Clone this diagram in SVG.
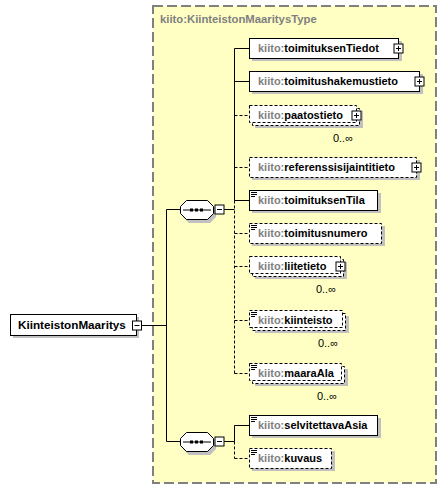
<svg xmlns="http://www.w3.org/2000/svg" width="448" height="490" viewBox="0 0 448 490">
<style>
text{font-family:"Liberation Sans",Arial,sans-serif;font-size:11px;font-weight:bold;fill:#000}
.pre{fill:#808080}
.occ{font-weight:normal;text-anchor:end}
.box{fill:#fff;stroke:#000;stroke-width:1}
.opt{stroke-dasharray:3,2}
.sh{fill:#c0c0c0}
.ln{stroke:#000;stroke-width:1;fill:none}
.dl{stroke:#000;stroke-width:1;fill:none;stroke-dasharray:3,2}
</style>
<defs>
<g id="plus"><rect x="-4.5" y="-4.5" width="9" height="9" fill="#fff" stroke="#000"/><path d="M-2.5 0H2.5M0 -2.5V2.5" stroke="#000"/></g>
<g id="minus"><rect x="-4.5" y="-4.5" width="9" height="9" fill="#fff" stroke="#000"/><path d="M-2.5 0H2.5" stroke="#000"/></g>
<g id="simp"><path d="M0 0.5H6M0 2.5H6M0 4.5H4" stroke="#000" stroke-width="1"/></g>
</defs>
<rect x="153" y="6" width="283" height="477" fill="#ffffc4" stroke="#808080" stroke-width="2" stroke-dasharray="10,4"/>
<text class="pre" x="160" y="23" style="font-size:11.3px">kiito:KiinteistonMaaritysType</text>

<g id="connectors">
<path class="ln" d="M141.5 325.5H166.5M166.5 209.5V441.5M166.5 209.5H180M166.5 441.5H180"/>
<path class="ln" d="M224 209.5H234.5M234.5 48.5V200.5M234.5 48.5H249M234.5 81.5H249M234.5 200.5H249"/>
<path class="dl" d="M234.5 200.5V373.5M234.5 115.5H249M234.5 167.5H249M234.5 233.5H249M234.5 266.5H249M234.5 320.5H249M234.5 373.5H249"/>
<path class="ln" d="M224 441.5H234.5M234.5 425.5V441.5M234.5 425.5H249"/>
<path class="dl" d="M234.5 441.5V458.5M234.5 458.5H249"/>
</g>

<g id="root">
<rect class="sh" x="13" y="317" width="126" height="21"/>
<rect class="box" x="10.5" y="314.5" width="126" height="21"/>
<text x="18" y="329" style="font-size:11.7px">KiinteistonMaaritys</text>
<use href="#minus" x="137" y="325.5"/>
</g>

<g id="seq1">
<polygon class="sh" points="189,203 210,203 216,209 216,217 210,223 189,223 183,217 183,209"/>
<polygon class="box" points="186.5,200.5 207.5,200.5 213.5,206.5 213.5,213.5 207.5,219.5 186.5,219.5 180.5,213.5 180.5,206.5"/>
<path class="ln" d="M183 210H211"/>
<rect x="190" y="208.5" width="3" height="3"/><rect x="195" y="208.5" width="3" height="3"/><rect x="200" y="208.5" width="3" height="3"/>
<use href="#minus" x="219.5" y="209.5"/>
</g>

<g id="seq2">
<polygon class="sh" points="189,435 210,435 216,441 216,449 210,455 189,455 183,449 183,441"/>
<polygon class="box" points="186.5,432.5 207.5,432.5 213.5,438.5 213.5,445.5 207.5,451.5 186.5,451.5 180.5,445.5 180.5,438.5"/>
<path class="ln" d="M183 442H211"/>
<rect x="190" y="440.5" width="3" height="3"/><rect x="195" y="440.5" width="3" height="3"/><rect x="200" y="440.5" width="3" height="3"/>
<use href="#minus" x="219.5" y="441.5"/>
</g>

<g id="toimituksenTiedot">
<rect class="sh" x="252" y="41" width="150" height="20"/>
<rect class="box" x="249.5" y="38.5" width="149" height="20"/>
<text x="258" y="52"><tspan class="pre">kiito:</tspan>toimituksenTiedot</text>
<use href="#plus" x="398.5" y="48.5"/>
</g>

<g id="toimitushakemustieto">
<rect class="sh" x="252" y="74" width="171" height="20"/>
<rect class="box" x="249.5" y="71.5" width="170" height="20"/>
<text x="258" y="85"><tspan class="pre">kiito:</tspan>toimitushakemustieto</text>
<use href="#plus" x="419.5" y="81.5"/>
</g>

<g id="paatostieto">
<rect class="sh" x="255" y="111" width="108" height="17"/>
<rect class="box opt" x="252.5" y="108.5" width="107" height="17"/>
<rect class="box opt" x="249.5" y="105.5" width="107" height="17"/>
<text x="258" y="119"><tspan class="pre">kiito:</tspan>paatostieto</text>
<use href="#plus" x="356.5" y="115.5"/>
<text class="occ" x="353" y="142">0..∞</text>
</g>

<g id="referenssisijaintitieto">
<rect class="sh" x="252" y="160" width="168" height="20"/>
<rect class="box opt" x="249.5" y="157.5" width="167" height="20"/>
<text x="258" y="171"><tspan class="pre">kiito:</tspan>referenssisijaintitieto</text>
<use href="#plus" x="416.5" y="167.5"/>
</g>

<g id="toimituksenTila">
<rect class="sh" x="252" y="193" width="129" height="20"/>
<rect class="box" x="249.5" y="190.5" width="128" height="20"/>
<use href="#simp" x="251" y="192"/>
<text x="258" y="204"><tspan class="pre">kiito:</tspan>toimituksenTila</text>
</g>

<g id="toimitusnumero">
<rect class="sh" x="252" y="226" width="133" height="20"/>
<rect class="box opt" x="249.5" y="223.5" width="132" height="20"/>
<use href="#simp" x="251" y="225"/>
<text x="258" y="237"><tspan class="pre">kiito:</tspan>toimitusnumero</text>
</g>

<g id="liitetieto">
<rect class="sh" x="255" y="262" width="92" height="17"/>
<rect class="box opt" x="252.5" y="259.5" width="91" height="17"/>
<rect class="box opt" x="249.5" y="256.5" width="91" height="17"/>
<text x="258" y="270"><tspan class="pre">kiito:</tspan>liitetieto</text>
<use href="#plus" x="340.5" y="266.5"/>
<text class="occ" x="336" y="293">0..∞</text>
</g>

<g id="kiinteisto">
<rect class="sh" x="255" y="316" width="94" height="17"/>
<rect class="box opt" x="252.5" y="313.5" width="93" height="17"/>
<rect class="box opt" x="249.5" y="310.5" width="93" height="17"/>
<use href="#simp" x="251" y="312"/>
<text x="258" y="324"><tspan class="pre">kiito:</tspan>kiinteisto</text>
<text class="occ" x="338" y="347">0..∞</text>
</g>

<g id="maaraAla">
<rect class="sh" x="255" y="369" width="93" height="17"/>
<rect class="box opt" x="252.5" y="366.5" width="92" height="17"/>
<rect class="box opt" x="249.5" y="363.5" width="92" height="17"/>
<use href="#simp" x="251" y="365"/>
<text x="258" y="377"><tspan class="pre">kiito:</tspan>maaraAla</text>
<text class="occ" x="337" y="400">0..∞</text>
</g>

<g id="selvitettavaAsia">
<rect class="sh" x="252" y="418" width="129" height="20"/>
<rect class="box" x="249.5" y="415.5" width="128" height="20"/>
<use href="#simp" x="251" y="417"/>
<text x="258" y="429"><tspan class="pre">kiito:</tspan>selvitettavaAsia</text>
</g>

<g id="kuvaus">
<rect class="sh" x="252" y="451" width="83" height="20"/>
<rect class="box opt" x="249.5" y="448.5" width="82" height="20"/>
<use href="#simp" x="251" y="450"/>
<text x="258" y="462"><tspan class="pre">kiito:</tspan>kuvaus</text>
</g>
</svg>
